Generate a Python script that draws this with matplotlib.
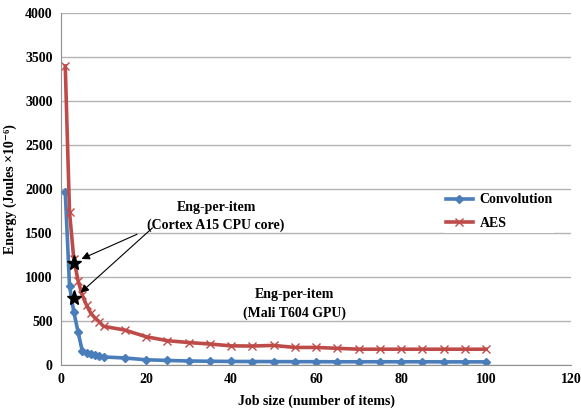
import numpy as np
import matplotlib.pyplot as plt

plt.rcParams['font.family'] = ['Liberation Serif', 'DejaVu Serif']
plt.rcParams['font.weight'] = 'bold'

job_size = [1, 2, 3, 4, 5, 6, 7, 8, 9, 10, 15, 20, 25, 30, 35, 40, 45, 50,
            55, 60, 65, 70, 75, 80, 85, 90, 95, 100]
conv = [1970, 900, 605, 380, 160, 140, 125, 112, 100, 92, 80, 60, 52, 46,
        43, 41, 40, 39, 38, 38, 37, 37, 37, 37, 37, 36, 36, 36]
aes = [3400, 1740, 1210, 960, 795, 680, 590, 534, 492, 440, 398, 322, 277,
       256, 239, 218, 216, 223, 200, 200, 190, 180, 180, 180, 180, 180, 180, 180]

stars_x = [3, 3]
stars_y = [1160, 760]

blue = '#4a7ebb'
red = '#be4b48'

fig = plt.figure(figsize=(5.81, 4.12), dpi=100)
ax = fig.add_axes([0.105, 0.114, 0.878, 0.854])

ax.plot(job_size, conv, color=blue, lw=2.6, marker='D', ms=4.5, mfc=blue, mec=blue, label='Convolution')
ax.plot(job_size, aes, color=red, lw=2.6, marker='x', ms=5.5, mew=1, mec=red, label='AES')
ax.plot(stars_x, stars_y, ls='none', marker='*', ms=11, color='black', zorder=5)

ax.set_xlim(0, 120)
ax.set_ylim(0, 4000)
ax.set_xticks(np.arange(0, 121, 20))
ax.set_yticks(np.arange(0, 4001, 500))
ax.grid(axis='y', color='#b3b3b3', lw=1)
ax.set_axisbelow(True)
for s in ['top', 'right']:
    ax.spines[s].set_visible(False)
for s in ['left', 'bottom']:
    ax.spines[s].set_color('#909090')
ax.tick_params(length=0, labelsize=10, pad=6)
ax.set_xlabel('Job size (number of items)', fontsize=10, fontweight='bold', labelpad=6)
ax.set_ylabel('Energy (Joules \u00d710\u207b\u2076)', fontsize=10, fontweight='bold', labelpad=6)

leg = ax.legend(loc='center left', bbox_to_anchor=(0.735, 0.436), frameon=True, fontsize=10,
                handlelength=1.95, labelspacing=0.75, borderpad=0.2, handletextpad=0.5)
leg.get_frame().set_edgecolor('none')
leg.get_frame().set_facecolor('white')
leg.get_frame().set_alpha(1)

ax.text(36.5, 1690, 'Eng-per-item\n(Cortex A15 CPU core)', ha='center', va='center',
        fontsize=10, fontweight='bold', linespacing=1.5)
ax.annotate('', xy=(4.2, 1193), xytext=(18.5, 1500),
            arrowprops=dict(arrowstyle='-|>', color='black', lw=0.8, mutation_scale=12))
ax.annotate('', xy=(4.1, 800), xytext=(22, 1580),
            arrowprops=dict(arrowstyle='-|>', color='black', lw=0.8, mutation_scale=12))
ax.text(55, 693, 'Eng-per-item\n(Mali T604 GPU)', ha='center', va='center',
        fontsize=10, fontweight='bold', linespacing=1.5)

fig.savefig('out.png', dpi=100)
